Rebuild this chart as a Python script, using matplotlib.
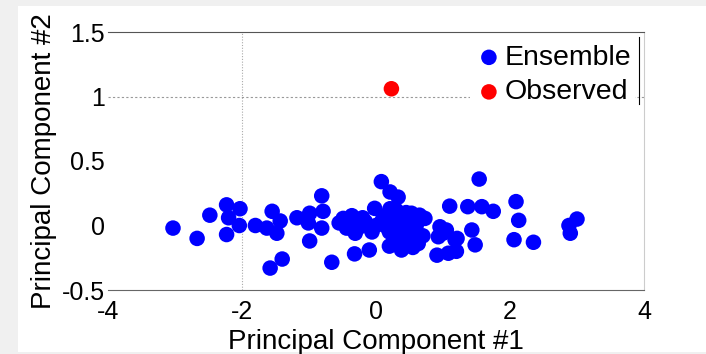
import matplotlib
matplotlib.use("Agg")
import matplotlib.pyplot as plt
from matplotlib.patches import Rectangle
from matplotlib.lines import Line2D

plt.rcParams['font.family'] = ['Liberation Sans', 'DejaVu Sans']

ens_x = [-3.03, -2.67, -2.48, -2.23, -2.03, -2.20, -2.04, -2.23, -1.80, -1.63,
         -1.55, -1.43, -1.48, -1.58, -1.40, -1.18, -0.99, -0.79, -0.81, -1.01,
         -0.81, -0.99, -0.66, -0.49, -0.36, -0.44, -0.31, -0.32, -0.10, -0.02,
         0.08, -0.16, -0.06, -0.24, 0.21, 0.33, 0.21, 0.53, 0.73, 0.28,
         0.16, 0.36, 0.56, 0.26, 0.38, 0.63, 0.955, 1.05, 0.93, 1.18,
         1.20, 0.91, 1.08, 1.10, 1.37, 1.58, 1.75, 1.54, 1.43, 1.48,
         2.09, 2.13, 2.06, 2.35, 2.88, 3.00, 2.90,
         0.30, 0.40, 0.45, 0.20, 0.50, 0.35, 0.10, 0.60, 0.45, 0.30,
         0.00, -0.20, 0.15, 0.70, 0.40, 0.25, 0.50, 0.65, -0.40, -0.55,
         -0.35, 1.00, 1.21, 0.55, 0.20]
ens_y = [-0.02, -0.10, 0.08, 0.16, 0.13, 0.06, 0.00, -0.07, 0.00, -0.02,
         0.11, 0.035, -0.06, -0.33, -0.26, 0.06, 0.095, 0.11, 0.23, 0.02,
         -0.02, -0.12, -0.285, 0.055, 0.076, -0.02, -0.06, -0.22, -0.19, 0.133,
         0.34, 0.03, -0.05, -0.01, 0.26, 0.22, 0.13, 0.095, 0.055, 0.04,
         -0.01, -0.02, -0.05, -0.125, -0.19, -0.14, -0.01, -0.035, -0.087, -0.11,
         -0.20, -0.23, -0.215, 0.15, 0.146, 0.146, 0.11, 0.36, -0.035, -0.15,
         0.185, 0.04, -0.11, -0.13, 0.00, 0.05, -0.06,
         0.00, 0.05, -0.08, -0.05, 0.02, -0.10, 0.05, 0.00, 0.10, 0.12,
         0.00, 0.06, 0.08, -0.08, -0.15, -0.02, -0.12, 0.08, 0.05, 0.02,
         -0.03, -0.06, -0.10, -0.17, -0.16]
obs_x = [0.23]
obs_y = [1.06]

xticks = [-4, -2, 0, 2, 4]
yticks = [-0.5, 0, 0.5, 1, 1.5]
ytick_labels = ['-0.5', '0', '0.5', '1', '1.5']

fig = plt.figure(figsize=(7.06, 3.54), dpi=100)
fig.patch.set_facecolor('#f0f0f0')
fig.patches.append(Rectangle((18/706, 2/354), (706-18)/706, (348-2)/354,
                             transform=fig.transFigure, facecolor='white',
                             edgecolor='none', zorder=-10))

ax = fig.add_axes([108/706, 1-290/354, (644-108)/706, (290-32)/354])
ax.set_facecolor('white')
ax.scatter(ens_x, ens_y, s=125, color='#0000ff', edgecolors='none', label='Ensemble', zorder=3)
ax.scatter(obs_x, obs_y, s=125, color='#ff0000', edgecolors='none', label='Observed', zorder=3)

ax.set_xlim(-4, 4)
ax.set_ylim(-0.5, 1.5)
ax.set_xticks(xticks)
ax.set_xticklabels([str(t) for t in xticks])
ax.set_yticks(yticks)
ax.set_yticklabels(ytick_labels)
ax.tick_params(axis='both', which='major', length=0, labelsize=18, pad=2)
ax.tick_params(axis='y', which='major', pad=2)
ax.tick_params(axis='x', which='major', pad=7)

ax.set_xticks([-2, 2], minor=True)
ax.tick_params(axis='x', which='minor', direction='in', length=4, top=True, bottom=True, color='#555555')
ax.set_yticks([1], minor=True)
ax.tick_params(axis='y', which='minor', direction='in', length=4, left=False, right=True, color='#555555')

ax.axvline(-2, color='#aaaaaa', linestyle=(0, (1, 1.5)), linewidth=0.8, zorder=1)
ax.axhline(1, color='#999999', linestyle=(0, (2, 2)), linewidth=0.8, zorder=1)

ax.spines['left'].set_visible(False)
ax.spines['top'].set_color('#555555')
ax.spines['bottom'].set_color('#666666')
ax.spines['right'].set_color('#cccccc')

ax.set_xlabel('Principal Component #1', fontsize=20, labelpad=4)
ax.set_ylabel('Principal Component #2', fontsize=20, labelpad=4)

leg = ax.legend(loc='upper right', fontsize=20.5, frameon=True, handletextpad=0.05,
                borderaxespad=0.3, borderpad=0.15, labelspacing=0.3, handlelength=1.0,
                markerscale=1.0, fancybox=False)
leg.get_frame().set_facecolor('white')
leg.get_frame().set_edgecolor('none')
leg.get_frame().set_alpha(1)
leg.set_zorder(5)

ax.add_line(Line2D([0.991, 0.991], [0.72, 0.98], transform=ax.transAxes,
                   color='black', linewidth=0.8, zorder=7))

fig.savefig('out.png', dpi=100, facecolor=fig.get_facecolor())
